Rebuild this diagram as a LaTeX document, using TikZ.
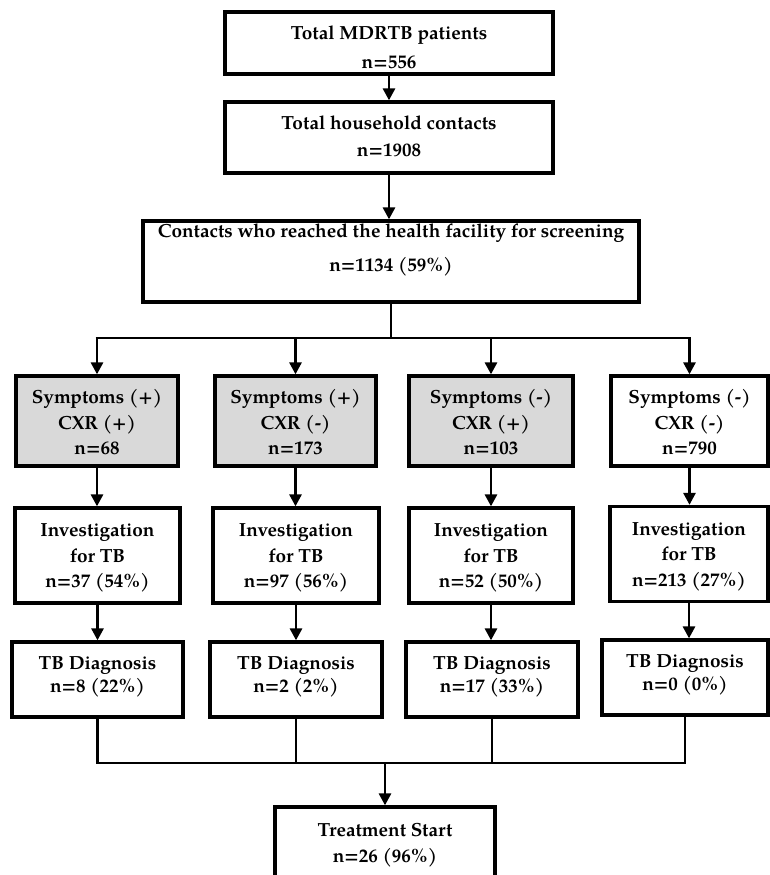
\documentclass[tikz,border=0pt]{standalone}
\usepackage{fontspec}
\setmainfont{texgyrepagella}[Extension=.otf,UprightFont=*-regular,BoldFont=*-bold,ItalicFont=*-italic,BoldItalicFont=*-bolditalic]
\usetikzlibrary{arrows.meta}
\definecolor{boxgray}{RGB}{217,217,217}
\tikzset{
  box/.style={draw=black, line width=3.3pt, fill=white, inner sep=0pt},
  graybox/.style={box, fill=boxgray},
  txt/.style={align=center, inner sep=0pt, font=\bfseries\fontsize{19}{25.5}\selectfont},
  conn/.style={line width=2.8pt},
  arr/.style={conn, -{Triangle[length=12pt,width=12pt]}},
}
\begin{document}
\begin{tikzpicture}[x=1pt,y=-1pt]
\useasboundingbox (0,0) rectangle (769,875);
% top boxes
\node[box, minimum width=328, minimum height=62] (top) at (389,43) {};
\node[txt, font=\bfseries\fontsize{19}{29}\selectfont] (topt) at (389,47.5) {Total MDRTB patients\\n=556};
\node[box, minimum width=328, minimum height=71] (hh) at (389,137.5) {};
\node[txt, font=\bfseries\fontsize{19}{27}\selectfont] (hht) at (389,136.5) {Total household contacts\\n=1908};
\node[box, minimum width=496, minimum height=81] (scr) at (391,261.5) {};
\node[txt, font=\bfseries\fontsize{19}{34}\selectfont] (scrt) at (391,250) {Contacts who reached the health facility for screening\\n=1134 (59\%)};
% row 1
\node[graybox, minimum width=162, minimum height=90] (r1c1) at (97,421) {};
\node[txt] (r1c1t) at (97,422.5) {Symptoms (+)\\CXR (+)\\n=68};
\node[graybox, minimum width=161, minimum height=90] (r1c2) at (295.5,421) {};
\node[txt] (r1c2t) at (295.5,422.5) {Symptoms (+)\\CXR (-)\\n=173};
\node[graybox, minimum width=164, minimum height=90] (r1c3) at (491,421) {};
\node[txt] (r1c3t) at (491,422.5) {Symptoms (-)\\CXR (+)\\n=103};
\node[box, minimum width=157, minimum height=90] (r1c4) at (689.5,421) {};
\node[txt] (r1c4t) at (689.5,422.5) {Symptoms (-)\\CXR (-)\\n=790};
% row 2
\node[box, minimum width=165, minimum height=95] (r2c1) at (97.5,555.5) {};
\node[txt] (r2c1t) at (97.5,558) {Investigation\\for TB\\n=37 (54\%)};
\node[box, minimum width=166, minimum height=95] (r2c2) at (296,555.5) {};
\node[txt] (r2c2t) at (296,558) {Investigation\\for TB\\n=97 (56\%)};
\node[box, minimum width=164, minimum height=95] (r2c3) at (491,555.5) {};
\node[txt] (r2c3t) at (491,558) {Investigation\\for TB\\n=52 (50\%)};
\node[box, minimum width=158, minimum height=95] (r2c4) at (689,554) {};
\node[txt] (r2c4t) at (689,556.5) {Investigation\\for TB\\n=213 (27\%)};
% row 3
\node[box, minimum width=171, minimum height=75] (r3c1) at (97.5,679.5) {};
\node[txt, font=\bfseries\fontsize{19}{23}\selectfont] (r3c1t) at (97.5,676.5) {TB Diagnosis\\n=8 (22\%)};
\node[box, minimum width=172, minimum height=75] (r3c2) at (296,679.5) {};
\node[txt, font=\bfseries\fontsize{19}{23}\selectfont] (r3c2t) at (296,676.5) {TB Diagnosis\\n=2 (2\%)};
\node[box, minimum width=172, minimum height=75] (r3c3) at (492,679.5) {};
\node[txt, font=\bfseries\fontsize{19}{23}\selectfont] (r3c3t) at (492,676.5) {TB Diagnosis\\n=17 (33\%)};
\node[box, minimum width=166, minimum height=75] (r3c4) at (685,677.5) {};
\node[txt, font=\bfseries\fontsize{19}{23}\selectfont] (r3c4t) at (685,674.5) {TB Diagnosis\\n=0 (0\%)};
% treatment
\node[box, minimum width=220, minimum height=80] (treat) at (385,847) {};
\node[txt, font=\bfseries\fontsize{19}{26}\selectfont] (treatt) at (385,845) {Treatment Start\\n=26 (96\%)};
% connectors
\draw[arr] (top) -- (hh);
\draw[arr] (hh.south) -- (hh.south |- scr.north);
\coordinate (j1) at (391,338);
\draw[conn] (scr.south) -- (j1);
\draw[conn] ([xshift=-1.4pt]r1c1.north |- j1) -- ([xshift=1.4pt]r1c4.north |- j1);
\foreach \c in {r1c1,r1c2,r1c3,r1c4}{\draw[arr] (\c.north |- j1) -- (\c.north);}
\draw[arr] (r1c1.south) -- (r1c1.south |- r2c1.north);
\draw[arr] (r1c2.south) -- (r1c2.south |- r2c2.north);
\draw[arr] (r1c3.south) -- (r1c3.south |- r2c3.north);
\draw[arr] (r1c4.south) -- (r1c4.south |- r2c4.north);
\draw[arr] (r2c1.south) -- (r2c1.south |- r3c1.north);
\draw[arr] (r2c2.south) -- (r2c2.south |- r3c2.north);
\draw[arr] (r2c3.south) -- (r2c3.south |- r3c3.north);
\draw[arr] (r2c4.south) -- (r2c4.south |- r3c4.north);
\coordinate (j2) at (385,763);
\foreach \c in {r3c1,r3c2,r3c3,r3c4}{\draw[conn] (\c.south) -- (\c.south |- j2);}
\draw[conn] ([xshift=-1.4pt]r3c1.south |- j2) -- ([xshift=1.4pt]r3c4.south |- j2);
\draw[arr] (j2) -- (treat.north);
\end{tikzpicture}
\end{document}
